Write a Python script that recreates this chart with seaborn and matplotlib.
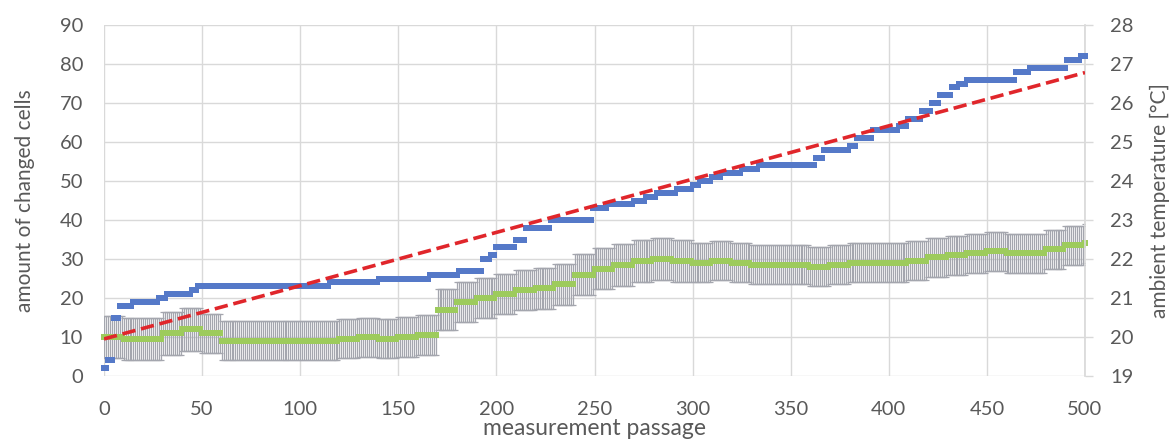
import numpy as np
import pandas as pd
import matplotlib
matplotlib.use("Agg")
import matplotlib.pyplot as plt
import seaborn as sns

# Ambient temperature readings: each step starts at the given passage
temp_step_start = [0, 2, 5, 8, 15, 28, 32, 45, 48, 115, 140, 166, 181, 193, 197,
                   200, 210, 215, 228, 249, 257, 270, 276, 282, 292, 300, 304, 310,
                   315, 325, 334, 363, 367, 380, 384, 392, 405, 410, 417, 422, 426,
                   432, 436, 440, 465, 472, 491, 498]
temp_step_value = [19.2, 19.4, 20.5, 20.8, 20.9, 21.0, 21.1, 21.2, 21.3, 21.4, 21.5,
                   21.6, 21.7, 22.0, 22.1, 22.3, 22.5, 22.8, 23.0, 23.3, 23.4, 23.5,
                   23.6, 23.7, 23.8, 23.9, 24.0, 24.1, 24.2, 24.3, 24.4, 24.6, 24.8,
                   24.9, 25.1, 25.3, 25.4, 25.6, 25.8, 26.0, 26.2, 26.4, 26.5, 26.6,
                   26.8, 26.9, 27.1, 27.2]

# Linear trend of the ambient temperature
trend_passage = [0, 500]
trend_temp = [19.95, 26.78]

# Mean amount of changed cells, one level per block of 10 passages
cells_level = [10, 9.5, 9.5, 11, 12, 11, 9, 9, 9, 9, 9, 9, 9.5, 10, 9.5, 10, 10.5,
               17, 19, 20, 21, 22, 22.5, 23.5, 26, 27.5, 28.5, 29.5, 30, 29.5, 29,
               29.5, 29, 28.5, 28.5, 28.5, 28, 28.5, 29, 29, 29, 29.5, 30.5, 31,
               31.5, 32, 31.5, 31.5, 32.5, 33.5, 34]
# Standard deviation of changed cells, one value per block of 50 passages
cells_spread = [5.5, 5.0, 5.0, 5.2, 5.2, 5.3, 5.0, 5.0, 5.0, 5.0, 5.0]

x_ticks = list(range(0, 501, 50))
left_ticks = list(range(0, 91, 10))
right_ticks = list(range(19, 29))

passage = np.arange(0, 501)
temp_idx = np.searchsorted(temp_step_start, passage, side="right") - 1
temperature = np.asarray(temp_step_value)[temp_idx]
cells = np.asarray(cells_level)[passage // 10]
spread = np.asarray(cells_spread)[passage // 50]

df = pd.DataFrame({"passage": passage, "temperature": temperature,
                   "cells": cells, "spread": spread})
trend = pd.DataFrame({"passage": trend_passage, "temperature": trend_temp})

sns.set_theme(style="white")
plt.rcParams["font.family"] = ["Lato", "DejaVu Sans"]

text_col = "#595959"
grid_col = "#D9D9D9"

fig = plt.figure(figsize=(11.72, 4.41), dpi=100)
ax = fig.add_axes([104 / 1172, 1 - 376 / 441, (1085 - 104) / 1172, (376 - 25) / 441])

# error bars for the changed cells
eb = ax.errorbar(df["passage"], df["cells"], yerr=df["spread"], fmt="none",
                 ecolor="#A4A6AE", elinewidth=0.9, capsize=2.2, capthick=0.9,
                 zorder=2)
for cap in eb[1]:
    cap.set_color("#5A5A5A")

sns.scatterplot(data=df, x="passage", y="cells", ax=ax, marker="s", s=16,
                color="#9DCB5C", linewidth=0, zorder=3, clip_on=False)

ax.set_xlim(0, 500)
ax.set_ylim(0, 90)
ax.set_xticks(x_ticks)
ax.set_yticks(left_ticks)
ax.grid(True, color=grid_col, linewidth=1.0)
ax.set_axisbelow(True)
for s in ax.spines.values():
    s.set_visible(False)
ax.tick_params(axis="both", length=0, labelsize=14.5, colors=text_col)
ax.tick_params(axis="y", pad=15)
ax.tick_params(axis="x", pad=18)
ax.set_xlabel("measurement passage", fontsize=16.5, color=text_col, labelpad=0)
ax.set_ylabel("amount of changed cells", fontsize=15, color=text_col, labelpad=18)

ax2 = ax.twinx()
sns.scatterplot(data=df, x="passage", y="temperature", ax=ax2, marker="s", s=13,
                color="#5579C8", linewidth=0, zorder=3, clip_on=False)
sns.lineplot(data=trend, x="passage", y="temperature", ax=ax2, color="#E0262B",
             linestyle="--", linewidth=2.6, zorder=4)
ax2.set_ylim(19, 28)
ax2.set_yticks(right_ticks)
for s in ax2.spines.values():
    s.set_visible(False)
ax2.spines["right"].set_visible(True)
ax2.spines["right"].set_color(grid_col)
ax2.tick_params(axis="y", length=6, width=1, color=grid_col, labelsize=14.5,
                colors=text_col, pad=12)
ax2.tick_params(axis="y", color=grid_col)
ax2.set_ylabel("ambient temperature [°C]", fontsize=15, color=text_col, labelpad=12)
ax2.grid(False)

fig.savefig("out.png", dpi=100)
